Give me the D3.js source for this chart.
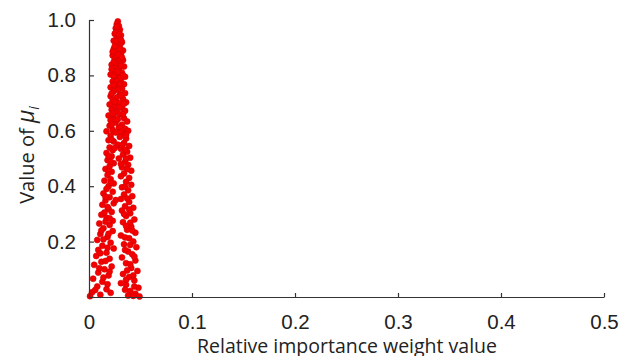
<!DOCTYPE html>
<html>
<head>
<meta charset="utf-8">
<script src="https://cdn.jsdelivr.net/npm/d3@7"></script>
<style>
  body { margin: 0; background: #fff; }
  svg { font-family: 'Open Sans', 'Noto Sans', sans-serif; }
</style>
</head>
<body>
<div class="chart"></div>
<script>
// axis ticks
var xTicks = [0, 0.1, 0.2, 0.3, 0.4, 0.5];
var yTicks = [0.2, 0.4, 0.6, 0.8, 1.0];

// scatter points [weight, mu]
var upperPoints = [
  [0.028,0.995],[0.027,0.985],[0.029,0.978],[0.026,0.970],[0.030,0.965],[0.028,0.958],[0.025,0.950],
  [0.031,0.945],[0.027,0.940],[0.029,0.932],[0.024,0.925],[0.032,0.920],[0.026,0.915],[0.030,0.908],
  [0.028,0.900],[0.024,0.895],[0.033,0.890],[0.027,0.885],[0.031,0.878],[0.023,0.872],[0.029,0.868],
  [0.025,0.860],[0.033,0.855],[0.027,0.850],[0.030,0.843],[0.022,0.838],[0.034,0.832],[0.026,0.828],
  [0.029,0.820],[0.024,0.815],[0.032,0.810],[0.021,0.803],[0.028,0.800],[0.035,0.795],[0.025,0.790],
  [0.031,0.784],[0.023,0.778],[0.029,0.772],[0.034,0.768],[0.026,0.762],[0.021,0.757],[0.032,0.752],
  [0.027,0.975],[0.026,0.955],[0.029,0.948],[0.027,0.925],[0.025,0.905],[0.030,0.895],[0.028,0.875],
  [0.026,0.845],[0.031,0.835],[0.028,0.812],[0.024,0.798],[0.030,0.790],[0.027,0.778],[0.024,0.765],
  [0.031,0.928],[0.023,0.885],[0.032,0.865],[0.024,0.848],[0.022,0.822],[0.033,0.800],[0.030,0.770]
];

var middlePoints = [
  [0.028,0.748],[0.024,0.742],[0.035,0.736],[0.030,0.730],[0.021,0.725],[0.027,0.720],[0.033,0.715],
  [0.023,0.710],[0.036,0.703],[0.029,0.700],[0.020,0.695],[0.025,0.688],[0.032,0.682],[0.022,0.676],
  [0.035,0.672],[0.027,0.668],[0.030,0.660],[0.019,0.655],[0.024,0.650],[0.034,0.645],[0.021,0.638],
  [0.037,0.634],[0.026,0.630],[0.032,0.622],[0.020,0.618],[0.029,0.612],[0.035,0.607],[0.023,0.603],
  [0.038,0.600],[0.017,0.598],[0.026,0.594],[0.033,0.588],[0.021,0.583],[0.030,0.578],[0.036,0.572],
  [0.019,0.566],[0.024,0.561],[0.034,0.556],[0.028,0.550],[0.039,0.545],[0.020,0.540],[0.031,0.535],
  [0.023,0.530],[0.037,0.524],[0.017,0.520],[0.033,0.514],[0.022,0.508],[0.040,0.503],[0.029,0.500],
  [0.018,0.494],[0.035,0.488],[0.024,0.483],[0.038,0.477],[0.020,0.472],[0.032,0.468],[0.016,0.462],
  [0.041,0.456],[0.022,0.452],[0.031,0.728],[0.025,0.705],[0.029,0.685],[0.033,0.660],[0.025,0.640],
  [0.022,0.735],[0.034,0.698],[0.023,0.664],[0.028,0.642],[0.022,0.622],[0.031,0.597],[0.036,0.585],
  [0.022,0.568],[0.032,0.548],[0.025,0.538],[0.035,0.532],[0.019,0.508],[0.036,0.500],[0.021,0.488],
  [0.031,0.480],[0.037,0.462],[0.019,0.455]
];

var lowerPoints = [
  [0.034,0.446],[0.018,0.440],[0.031,0.436],[0.039,0.430],[0.021,0.425],[0.015,0.420],[0.036,0.416],
  [0.024,0.410],[0.041,0.405],[0.019,0.400],[0.032,0.396],[0.017,0.390],[0.038,0.385],[0.023,0.380],
  [0.014,0.374],[0.034,0.370],[0.042,0.364],[0.020,0.360],[0.031,0.354],[0.016,0.348],[0.039,0.343],
  [0.024,0.338],[0.013,0.333],[0.035,0.328],[0.043,0.322],[0.019,0.318],[0.032,0.312],[0.022,0.307],
  [0.040,0.302],[0.012,0.297],[0.036,0.292],[0.017,0.286],[0.044,0.280],[0.023,0.275],[0.033,0.270],
  [0.010,0.265],[0.020,0.260],[0.041,0.254],[0.014,0.248],[0.037,0.243],[0.023,0.238],[0.045,0.232],
  [0.011,0.227],[0.031,0.222],[0.018,0.217],[0.039,0.212],[0.008,0.206],[0.043,0.200],[0.021,0.196],
  [0.034,0.190],[0.013,0.185],[0.046,0.180],[0.024,0.175],[0.009,0.170],[0.038,0.164],[0.017,0.160],
  [0.042,0.154],[0.007,0.148],[0.032,0.143],[0.020,0.138],[0.045,0.132],[0.012,0.127],[0.036,0.122],
  [0.005,0.116],[0.022,0.110],[0.041,0.105],[0.015,0.100],[0.047,0.094],[0.009,0.088],[0.033,0.083],
  [0.019,0.078],[0.039,0.072],[0.004,0.066],[0.044,0.060],[0.013,0.055],[0.031,0.050],[0.036,0.044],
  [0.008,0.038],[0.048,0.033],[0.017,0.028],[0.040,0.022],[0.003,0.017],[0.045,0.012],[0.011,0.008],
  [0.038,0.005],[0.001,0.003],[0.049,0.002],[0.021,0.015],[0.043,0.004],
  [0.021,0.412],[0.035,0.398],[0.016,0.362],[0.037,0.356],[0.026,0.350],[0.018,0.325],[0.039,0.316],
  [0.015,0.305],[0.034,0.300],[0.020,0.284],[0.040,0.268],[0.016,0.272],[0.036,0.256],[0.012,0.240],
  [0.042,0.240],[0.019,0.228],[0.035,0.215],[0.014,0.208],[0.040,0.188],[0.018,0.178],[0.035,0.170],
  [0.011,0.158],[0.044,0.146],[0.016,0.130],[0.040,0.118],[0.010,0.104],[0.037,0.096],[0.020,0.092],
  [0.043,0.078],[0.014,0.070],[0.036,0.062],[0.018,0.046],[0.044,0.038],[0.006,0.025],[0.035,0.026]
];

var width = 629, height = 356;
var margin = { left: 89, right: 25, top: 20, bottom: 59 };

var x = d3.scaleLinear().domain([0, 0.5]).range([margin.left, width - margin.right]);
var y = d3.scaleLinear().domain([0, 1]).range([height - margin.bottom, margin.top]);

var svg = d3.select('.chart').append('svg')
  .attr('width', width)
  .attr('height', height);

// points first, axes drawn on top
var dots = svg.append('g');
upperPoints.concat(middlePoints, lowerPoints).forEach(function (d) {
  dots.append('circle')
    .attr('cx', x(d[0]))
    .attr('cy', y(d[1]))
    .attr('r', 3)
    .style('fill', '#f50000')
    .style('stroke', '#d00000')
    .style('stroke-width', 0.6);
});

var xAxis = d3.axisTop(x)
  .tickValues(xTicks)
  .tickSize(4)
  .tickSizeOuter(0)
  .tickFormat(function (d) { return d === 0 ? '0' : d3.format('.1f')(d); });

var gx = svg.append('g')
  .attr('transform', 'translate(0,' + y(0) + ')')
  .call(xAxis);
gx.selectAll('text')
  .attr('y', 17)
  .attr('dy', '0.71em')
  .style('font-size', '20.5px')
  .style('fill', '#222');

var yAxis = d3.axisRight(y)
  .tickValues(yTicks)
  .tickSize(5)
  .tickSizeOuter(0)
  .tickFormat(d3.format('.1f'));

var gy = svg.append('g')
  .attr('transform', 'translate(' + x(0) + ',0)')
  .call(yAxis);
gy.selectAll('text')
  .attr('x', -13)
  .attr('text-anchor', 'end')
  .style('font-size', '20.5px')
  .style('fill', '#222');

svg.selectAll('.domain, .tick line')
  .style('stroke', '#333')
  .style('stroke-width', 1.2);

// axis titles
svg.append('text')
  .attr('x', 347)
  .attr('y', 353)
  .attr('text-anchor', 'middle')
  .style('font-size', '19.5px')
  .style('fill', '#222')
  .text('Relative importance weight value');

var yt = svg.append('text')
  .attr('transform', 'translate(34,' + 155 + ')rotate(-90)')
  .attr('text-anchor', 'middle')
  .style('font-size', '20px')
  .style('fill', '#222');
yt.append('tspan').text('Value of ');
yt.append('tspan').style('font-style', 'italic').style('font-size', '23px').text('\u03bc');
yt.append('tspan').style('font-style', 'italic').style('font-size', '14px').attr('dy', 5).text('i');
</script>
</body>
</html>
